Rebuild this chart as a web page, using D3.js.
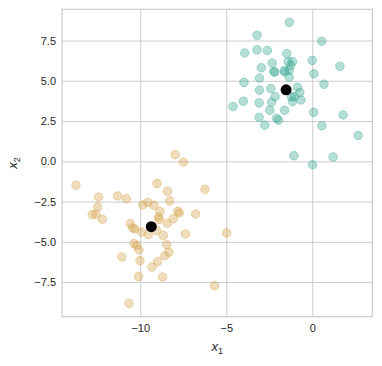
<!DOCTYPE html>
<html><head><meta charset="utf-8">
<script src="https://cdn.jsdelivr.net/npm/d3@7"></script>
<style>
html,body{margin:0;padding:0;background:#fff;}
text{font-family:"Liberation Sans",Arial,sans-serif;fill:#262626;}
</style></head>
<body><svg id="c" width="382" height="366"></svg>
<script>
// Cluster A (teal) points
const tealX = [-1.34,-3.21,0.55,-3.93,-3.21,-2.61,-1.48,-2.33,-1.40,-1.15,0.00,1.61,-2.96,-2.18,-2.24,-1.63,-1.34,-1.26,-1.34,0.10,-3.07,-3.97,0.68,-2.41,-0.86,-0.72,-3.07,-2.16,-1.05,-0.66,-1.15,-4.61,-4.01,-3.09,-2.37,-2.47,-1.61,0.08,1.79,-3.09,-2.08,-1.96,-2.76,0.56,2.67,-1.07,1.21,0.02,-1.60,-1.20];
const tealY = [8.63,7.83,7.46,6.73,6.92,6.88,6.69,6.10,6.19,6.19,6.27,5.90,5.81,5.54,5.58,5.63,5.65,5.96,5.23,5.44,5.17,4.90,4.79,4.52,4.60,4.27,4.42,4.02,4.02,3.81,3.71,3.40,3.73,3.63,3.67,3.17,3.17,3.04,2.88,2.73,2.67,2.56,2.25,2.21,1.60,0.35,0.27,-0.21,5.55,4.00];
// Cluster B (tan) points
const tanX = [-7.97,-7.50,-13.74,-9.03,-6.24,-8.41,-12.42,-11.32,-10.81,-8.29,-12.48,-9.86,-9.57,-9.21,-8.86,-7.81,-7.73,-6.78,-12.79,-12.58,-12.21,-8.93,-8.91,-8.08,-8.43,-10.58,-10.45,-10.31,-9.92,-9.53,-9.05,-8.66,-7.38,-4.98,-10.37,-10.21,-10.08,-8.47,-8.33,-8.57,-11.07,-10.02,-8.99,-9.32,-10.10,-8.70,-5.68,-10.66];
const tanY = [0.41,-0.04,-1.49,-1.37,-1.74,-1.86,-2.22,-2.15,-2.32,-2.46,-2.84,-2.71,-2.55,-2.73,-3.11,-3.11,-3.21,-3.27,-3.31,-3.29,-3.60,-3.46,-3.62,-3.56,-3.85,-3.87,-4.14,-4.20,-4.39,-4.55,-4.29,-4.60,-4.51,-4.45,-5.11,-5.22,-5.49,-5.18,-5.65,-5.86,-5.94,-6.17,-6.23,-6.56,-7.16,-7.18,-7.72,-8.82];
// Centroids
const centerX = [-1.52, -9.36];
const centerY = [4.44, -4.06];
// Ticks
const xTicks = [-10, -5, 0];
const yTicks = [-7.5, -5.0, -2.5, 0.0, 2.5, 5.0, 7.5];
const xDomain = [-14.55, 3.49];
const yDomain = [-9.65, 9.44];

const svg = d3.select("#c");
const L = 62, R = 372.3, T = 9.3, B = 316.7;
const x = d3.scaleLinear().domain(xDomain).range([L, R]);
const y = d3.scaleLinear().domain(yDomain).range([B, T]);

const fmtY = d => d3.format(".1f")(d).replace("-", "\u2212");
const fmtX = d => String(d).replace("-", "\u2212");

const xa = svg.append("g").attr("transform", `translate(0,${B})`)
  .call(d3.axisBottom(x).tickValues(xTicks).tickSize(-(B - T)).tickFormat(fmtX).tickPadding(8));
const ya = svg.append("g").attr("transform", `translate(${L},0)`)
  .call(d3.axisLeft(y).tickValues(yTicks).tickSize(-(R - L)).tickFormat(fmtY).tickPadding(6));
[xa, ya].forEach(a => {
  a.select(".domain").remove();
  a.selectAll("line").attr("stroke", "#cccccc").attr("stroke-width", 1);
  a.selectAll("text").attr("font-size", 11).attr("fill", "#262626")
   .style("font-family", '"Liberation Sans",Arial,sans-serif');
});
xa.selectAll("text").attr("dy", "0.71em");

svg.append("rect").attr("x", L).attr("y", T).attr("width", R - L).attr("height", B - T)
  .attr("fill", "none").attr("stroke", "#cccccc").attr("stroke-width", 1.2);

const pts = svg.append("g");
const drawCluster = (xs, ys, col) => {
  pts.selectAll(null).data(xs.map((v, i) => [v, ys[i]])).enter().append("circle")
    .attr("cx", d => x(d[0])).attr("cy", d => y(d[1])).attr("r", 4.3)
    .attr("fill", col).attr("fill-opacity", 0.38)
    .attr("stroke", col).attr("stroke-opacity", 0.38).attr("stroke-width", 1);
};
drawCluster(tealX, tealY, "#3aa893");
drawCluster(tanX, tanY, "#d6a44c");

pts.selectAll(null).data(centerX.map((v, i) => [v, centerY[i]])).enter().append("circle")
  .attr("cx", d => x(d[0])).attr("cy", d => y(d[1])).attr("r", 5.5).attr("fill", "#000");

const xl = svg.append("text").attr("x", (L + R) / 2).attr("y", 351).attr("text-anchor", "middle")
  .attr("font-size", 13);
xl.append("tspan").attr("font-style", "italic").text("x");
xl.append("tspan").attr("font-size", 9).attr("dy", 3).text("1");
const yl = svg.append("text").attr("transform", `translate(17,${(T + B) / 2}) rotate(-90)`)
  .attr("text-anchor", "middle").attr("font-size", 13);
yl.append("tspan").attr("font-style", "italic").text("x");
yl.append("tspan").attr("font-size", 9).attr("dy", 3).text("2");
</script></body></html>
